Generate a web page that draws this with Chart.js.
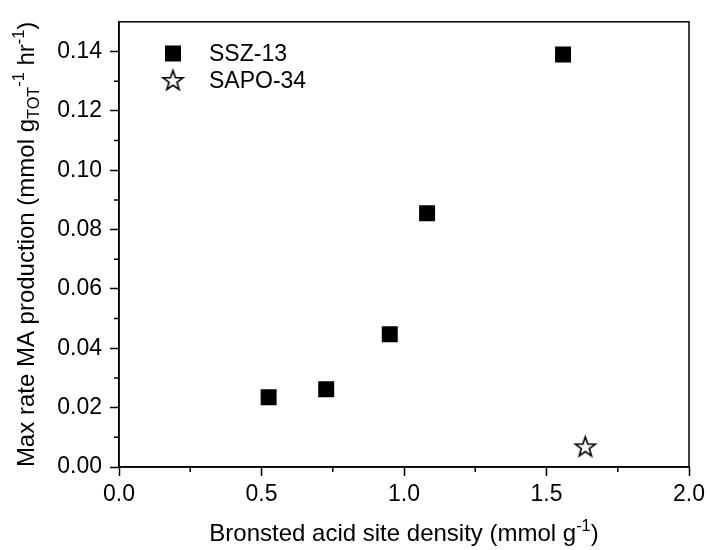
<!DOCTYPE html>
<html>
<head>
<meta charset="utf-8">
<script src="https://cdn.jsdelivr.net/npm/chart.js@4/dist/chart.umd.min.js"></script>
<style>
  html, body { margin: 0; padding: 0; background: #fff; }
  #wrap { width: 710px; height: 550px; }
</style>
</head>
<body>
<div id="wrap"><canvas id="scatterChart" width="710" height="550"></canvas></div>
<script>
// data
const ssz13X = [0.525, 0.727, 0.950, 1.081, 1.558];
const ssz13Y = [0.0235, 0.0262, 0.0447, 0.0855, 0.139];
const sapo34X = [1.636];
const sapo34Y = [0.0068];
const seriesNames = ['SSZ-13', 'SAPO-34'];

const FONT = "'Liberation Sans', Arial, sans-serif";

// open star marker (Chart.js 'star' is an asterisk, so build one)
function makeStar(outer) {
    const c = document.createElement('canvas');
    const s = Math.ceil(outer * 2 + 4);
    c.width = s; c.height = s;
    const g = c.getContext('2d');
    const inner = outer * 0.4;
    g.beginPath();
    for (let i = 0; i < 10; i++) {
        const r = i % 2 === 0 ? outer : inner;
        const a = -Math.PI / 2 + i * Math.PI / 5;
        const px = s / 2 + r * Math.cos(a);
        const py = s / 2 + r * Math.sin(a) + outer * 0.05;
        if (i === 0) g.moveTo(px, py); else g.lineTo(px, py);
    }
    g.closePath();
    g.fillStyle = '#fff';
    g.fill();
    g.lineWidth = 1.6;
    g.strokeStyle = '#000';
    g.stroke();
    return c;
}
const starImg = makeStar(10.5);

// draw text with sub/superscript pieces
function richWidth(ctx, parts, size) {
    let w = 0;
    parts.forEach(p => {
        ctx.font = (p[1] ? size * 0.68 : size) + 'px ' + FONT;
        w += ctx.measureText(p[0]).width;
    });
    return w;
}
function drawRich(ctx, parts, size, x, y) {
    let cx = x;
    parts.forEach(p => {
        const sz = p[1] ? size * 0.68 : size;
        ctx.font = sz + 'px ' + FONT;
        let dy = 0;
        if (p[1] === 'sup') dy = -size * 0.4;
        if (p[1] === 'sub') dy = size * 0.2;
        ctx.fillText(p[0], cx, y + dy);
        cx += ctx.measureText(p[0]).width;
    });
}

const yTitle = [['Max rate MA production (mmol g'], ['TOT', 'sub'], ['-1', 'sup'], [' hr'], ['-1', 'sup'], [')']];
const xTitle = [['Bronsted acid site density (mmol g'], ['-1', 'sup'], [')']];

const framePlugin = {
    id: 'frameAndLabels',
    afterDraw(chart) {
        const ctx = chart.ctx;
        const a = chart.chartArea;
        const xs = chart.scales.x, ys = chart.scales.y;
        ctx.save();
        ctx.strokeStyle = '#000';
        ctx.lineWidth = 1.5;
        ctx.strokeRect(a.left, a.top, a.right - a.left, a.bottom - a.top);

        // minor ticks halfway between the major ones
        ctx.beginPath();
        for (let i = 0; i < xs.ticks.length - 1; i++) {
            const px = xs.getPixelForValue((xs.ticks[i].value + xs.ticks[i + 1].value) / 2);
            ctx.moveTo(px, a.bottom); ctx.lineTo(px, a.bottom + 5);
        }
        for (let i = 0; i < ys.ticks.length; i++) {
            const v = ys.ticks[i].value + 0.01;
            if (v >= ys.max - 1e-9) continue;
            const py = ys.getPixelForValue(v);
            ctx.moveTo(a.left, py); ctx.lineTo(a.left - 5, py);
        }
        ctx.stroke();

        // axis titles
        ctx.fillStyle = '#000';
        ctx.textBaseline = 'alphabetic';
        ctx.textAlign = 'left';
        const size = 24;
        const wx = richWidth(ctx, xTitle, size);
        drawRich(ctx, xTitle, size, (a.left + a.right) / 2 - wx / 2, 541);

        const wy = richWidth(ctx, yTitle, size);
        ctx.translate(34, (a.top + a.bottom) / 2);
        ctx.rotate(-Math.PI / 2);
        drawRich(ctx, yTitle, size, -wy / 2, 0);
        ctx.setTransform(1, 0, 0, 1, 0, 0);

        // legend
        const lx = 173, rows = [53.5, 80.5];
        ctx.fillStyle = '#000';
        ctx.fillRect(lx - 8, rows[0] - 8, 16, 16);
        ctx.drawImage(starImg, lx - starImg.width / 2, rows[1] - starImg.height / 2);
        ctx.font = '23px ' + FONT;
        ctx.textBaseline = 'middle';
        seriesNames.forEach((n, i) => ctx.fillText(n, 209, rows[i] + 1));
        ctx.restore();
    }
};

const toPoints = (xs, ys) => xs.map((x, i) => ({ x: x, y: ys[i] }));

new Chart(document.getElementById('scatterChart'), {
    type: 'scatter',
    data: {
        datasets: [
            {
                label: seriesNames[0],
                data: toPoints(ssz13X, ssz13Y),
                pointStyle: 'rect',
                pointRadius: 11.3,
                pointBackgroundColor: '#000',
                pointBorderColor: '#000',
                pointBorderWidth: 0
            },
            {
                label: seriesNames[1],
                data: toPoints(sapo34X, sapo34Y),
                pointStyle: starImg,
                pointRadius: 11
            }
        ]
    },
    options: {
        responsive: false,
        animation: false,
        layout: { padding: { top: 13, right: 19, left: 0, bottom: 0 } },
        plugins: {
            legend: { display: false },
            tooltip: { enabled: false }
        },
        scales: {
            x: {
                type: 'linear',
                min: 0,
                max: 2,
                afterFit: s => { s.height = 83; },
                border: { display: true, color: '#000', width: 1.5 },
                grid: { drawOnChartArea: false, tickLength: 9, tickColor: '#000', tickWidth: 1.5 },
                ticks: {
                    stepSize: 0.5,
                    padding: 5,
                    color: '#000',
                    font: { family: FONT, size: 23 },
                    callback: v => v.toFixed(1)
                }
            },
            y: {
                type: 'linear',
                min: 0,
                max: 0.15,
                afterFit: s => { s.width = 119; },
                afterBuildTicks: s => { s.ticks = s.ticks.filter(t => t.value <= 0.1401); },
                border: { display: true, color: '#000', width: 1.5 },
                grid: { drawOnChartArea: false, tickLength: 9, tickColor: '#000', tickWidth: 1.5 },
                ticks: {
                    stepSize: 0.02,
                    padding: 8,
                    color: '#000',
                    font: { family: FONT, size: 23 },
                    callback: v => v.toFixed(2)
                }
            }
        }
    },
    plugins: [framePlugin]
});
</script>
</body>
</html>
